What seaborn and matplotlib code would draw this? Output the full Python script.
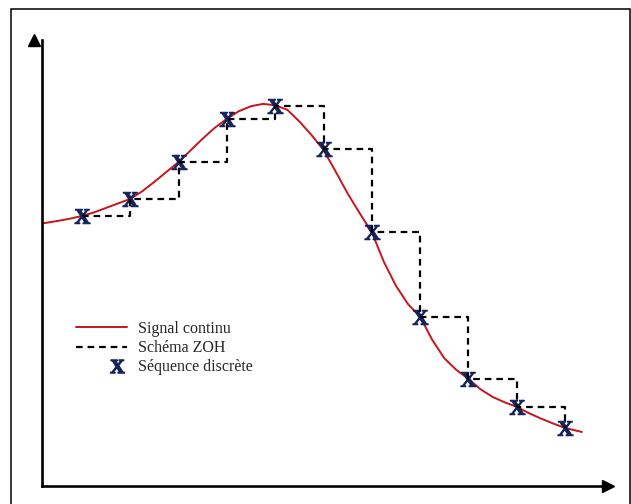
import numpy as np
import pandas as pd
import seaborn as sns
import matplotlib
matplotlib.use('Agg')
import matplotlib.pyplot as plt
from matplotlib.lines import Line2D
from matplotlib.patches import Rectangle
from matplotlib.legend_handler import HandlerLine2D

sns.set_style('white')
plt.rcParams['font.family'] = ['Liberation Serif', 'DejaVu Serif']
plt.rcParams['mathtext.fontset'] = 'custom'
plt.rcParams['mathtext.bf'] = 'Liberation Serif:bold'

# signal continu
t_cont = [0.21, 0.5, 0.75, 1.0, 1.25, 1.5, 1.75, 2.0, 2.25, 2.5, 2.75, 3.0, 3.25,
          3.5, 3.75, 4.0, 4.25, 4.5, 4.75, 5.0, 5.25, 5.5, 5.75, 6.0, 6.25, 6.5,
          6.75, 7.0, 7.25, 7.5, 7.75, 8.0, 8.25, 8.5, 8.75, 9.0, 9.25, 9.5, 9.75,
          10.0, 10.25, 10.5, 10.75, 11.0, 11.35]
y_cont = [5.84, 5.89, 5.94, 6.0, 6.08, 6.18, 6.28, 6.38, 6.55, 6.76, 6.98, 7.2, 7.46,
          7.72, 7.96, 8.16, 8.33, 8.44, 8.49, 8.46, 8.36, 8.1, 7.8, 7.47, 6.99, 6.5,
          6.06, 5.64, 4.98, 4.45, 4.04, 3.76, 3.25, 2.84, 2.58, 2.38, 2.15, 1.98, 1.86,
          1.76, 1.62, 1.5, 1.39, 1.29, 1.2]

# sequence discrete
t_ech = [1, 2, 3, 4, 5, 6, 7, 8, 9, 10, 11]
y_ech = [6.0, 6.38, 7.2, 8.16, 8.44, 7.49, 5.64, 3.76, 2.38, 1.76, 1.29]

labels = ['Signal continu', 'Schéma ZOH', 'Séquence discrète']

rouge = '#c8141c'
bleu = '#14235a'
marque = r'$\mathbf{X}$'

cont = pd.DataFrame({'t': t_cont, 'y': y_cont})
ech = pd.DataFrame({'t': t_ech, 'y': y_ech})

fig = plt.figure(figsize=(6.31, 5.04), dpi=100)
ax = fig.add_axes([42/631, 18/504, 566/631, 446/504])

sns.lineplot(data=cont, x='t', y='y', color=rouge, lw=1.4, sort=False, ax=ax, zorder=2)
sns.scatterplot(data=ech, x='t', y='y', marker=marque, color=bleu, s=120,
                linewidth=0.8, edgecolor=bleu, ax=ax, zorder=3)
sns.lineplot(data=ech, x='t', y='y', color='black', lw=1.6, drawstyle='steps-post',
             linestyle=(0, (3, 2.2)), sort=False, ax=ax, zorder=4)

ax.set_xlim(0.172, 11.89)
ax.set_ylim(0, 9.91)
ax.set_xticks([])
ax.set_yticks([])
ax.set_xlabel('')
ax.set_ylabel('')
for s in ['top', 'right']:
    ax.spines[s].set_visible(False)
for s in ['left', 'bottom']:
    ax.spines[s].set_linewidth(1.9)
    ax.spines[s].set_color('black')
# fleches des axes
ax.plot(1, 0, '>k', ms=9, transform=ax.get_yaxis_transform(), clip_on=False)
ax.plot(0, 1, '^k', ms=9, transform=ax.get_xaxis_transform(), clip_on=False)


class MarqueADroite(HandlerLine2D):
    def get_xdata(self, legend, xdescent, ydescent, width, height, fontsize):
        xd = [-xdescent + 0.8 * width]
        return xd, xd


# legende
handles = [Line2D([], [], color=rouge, lw=1.4),
           Line2D([], [], color='black', lw=1.6, linestyle=(0, (3, 2.2))),
           Line2D([], [], color=bleu, marker=marque, ms=10, linestyle='none')]
ax.legend(handles, labels, loc='upper left', bbox_to_anchor=(76/631, 1 - 321/504),
          bbox_transform=fig.transFigure, frameon=False, fontsize=11.5,
          handlelength=3.2, handletextpad=0.7, labelspacing=0.2, borderpad=0,
          borderaxespad=0, handler_map={handles[2]: MarqueADroite()})

# cadre
fig.patches.append(Rectangle((11/631, -0.1), 619/631, 1.1 - 9/504, fill=False,
                             lw=1.1, edgecolor='black', transform=fig.transFigure))

fig.savefig('out.png', dpi=100)
